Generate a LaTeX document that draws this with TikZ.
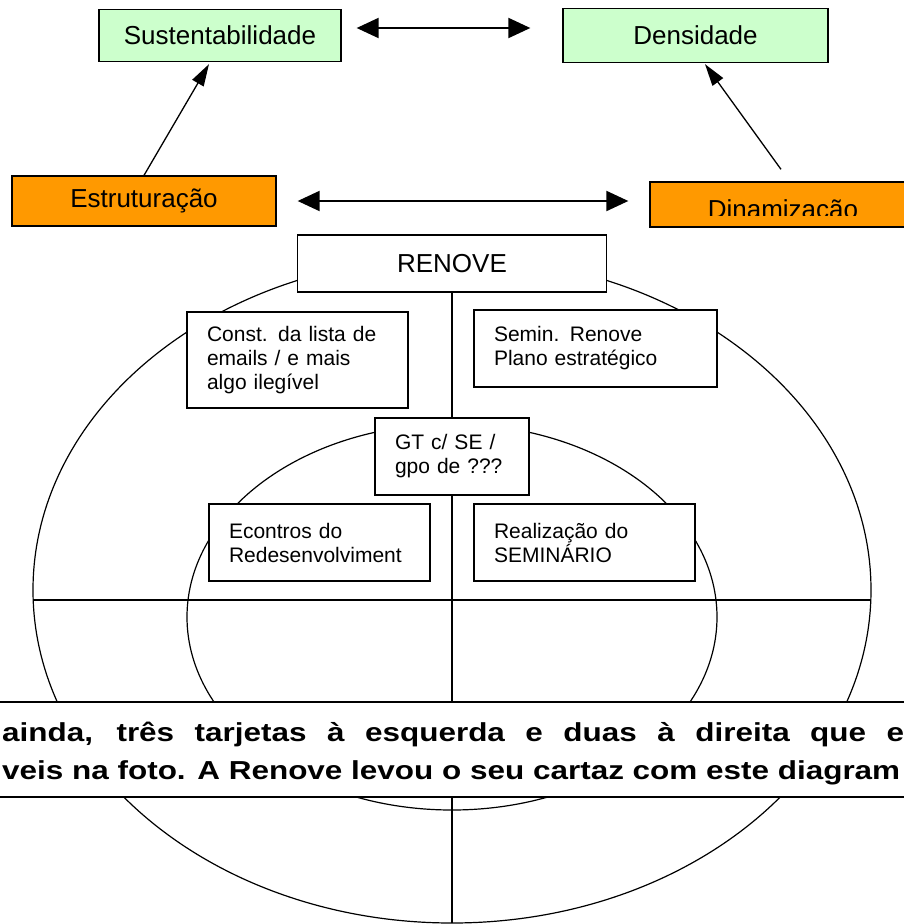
\documentclass[tikz,border=0pt]{standalone}
\usepackage{fontspec}
\usepackage{graphicx}
\setmainfont{Liberation Sans}
\newfontfamily\bannerfont[FakeStretch=1.21]{Liberation Sans}
\usetikzlibrary{arrows.meta}
\definecolor{boxgreen}{HTML}{CCFFCC}
\definecolor{boxorange}{HTML}{FF9900}
\begin{document}
\begin{tikzpicture}[x=1pt,y=-1pt,
  tbox/.style={draw=black, line width=1.3pt, inner sep=0pt, font=\fontsize{26}{30}\selectfont},
  greenbox/.style={tbox, fill=boxgreen},
  orangebox/.style={tbox, fill=boxorange},
  card/.style={draw=black, line width=1.3pt, fill=white, inner xsep=20pt, inner ysep=0pt, align=left, font=\fontsize{21}{24}\selectfont},
  dblarrow/.style={line width=2pt, {Triangle[length=22pt,width=20pt]}-{Triangle[length=22pt,width=20pt]}},
  diagarrow/.style={line width=1.3pt, -{Triangle[length=22pt,width=13pt]}},
  guide/.style={line width=1.2pt},
  bannertext/.style={anchor=base west, inner sep=0pt, font=\bannerfont\bfseries\fontsize{26}{30}\selectfont},
]
\clip (0,0) rectangle (904,924);
\fill[white] (0,0) rectangle (904,924);

% ellipses and cross
\draw[guide] (452,590) ellipse [x radius=419, y radius=333];
\draw[guide] (452,617) ellipse [x radius=265, y radius=193];
\draw[line width=1.8pt] (33.2,600) -- (870.8,600);

% top boxes
\node[greenbox, minimum width=242pt, minimum height=52pt] (sust) at (220,35.5) {Sustentabilidade};
\node[greenbox, minimum width=265pt, minimum height=54pt] (dens) at (695.5,35.5) {Densidade};
\node[orangebox, minimum width=264pt, minimum height=50pt] (estr) at (144,201) {Estruturação};
\node[orangebox, minimum width=266pt, minimum height=45pt] (dinam) at (783,204.5) {};
\begin{scope}
  \clip (651,183) rectangle (903,215);
  \node[font=\fontsize{26}{30}\selectfont, anchor=base, inner sep=0pt] (dinamtext) at (783,218) {Dinamização};
\end{scope}

% RENOVE and vertical line
\node[tbox, fill=white, minimum width=309pt, minimum height=57pt] (renove) at (452,263.5) {RENOVE};
\coordinate (ebot) at (452,923);
\draw[guide] (renove.south) -- (ebot);

% cards
\node[card, text width=181pt, minimum height=96pt] (const) at (297.5,360) {Const. da lista de\\emails / e mais\\algo ilegível};
\node[card, text width=203pt, minimum height=77pt] (semin) at (595.5,348.5) {Semin. Renove\\Plano estratégico};
\node[card, text width=114pt, minimum height=77pt] (gt) at (452,456.5) {GT c/ SE /\\gpo de ???};
\node[card, text width=181pt, minimum height=77pt] (econ) at (319.5,542.5) {Econtros do\\Redesenvolviment};
\node[card, text width=181pt, minimum height=77pt] (real) at (584.5,542.5) {Realização do\\SEMINÁRIO};

% arrows
\coordinate (ta) at ([yshift=7.5pt]sust.east);
\coordinate (tb) at (ta -| dens.west);
\draw[dblarrow, shorten <=15pt, shorten >=32pt] (ta) -- (tb);
\draw[dblarrow, shorten <=21pt, shorten >=21pt] (estr.east) -- (estr.east -| dinam.west);
\draw[diagarrow] (estr.north) -- ([xshift=-11pt,yshift=-2pt]sust.south);
\coordinate (ds) at ([xshift=-2pt,yshift=12pt]dinam.north);
\draw[diagarrow] (ds) -- ([xshift=9.5pt,yshift=-1pt]dens.south);

% banner
\node[draw, line width=2pt, fill=white, minimum width=920pt, minimum height=95pt, inner sep=0pt] (banner) at (452,749.5) {};
\node[bannertext] (bl1) at (2,741.5) {\makebox[902pt][s]{ainda, três tarjetas à esquerda e duas à direita que e}};
\node[bannertext] (bl2) at (2,779) {veis na foto. A Renove levou o seu cartaz com este diagram};
\end{tikzpicture}
\end{document}
